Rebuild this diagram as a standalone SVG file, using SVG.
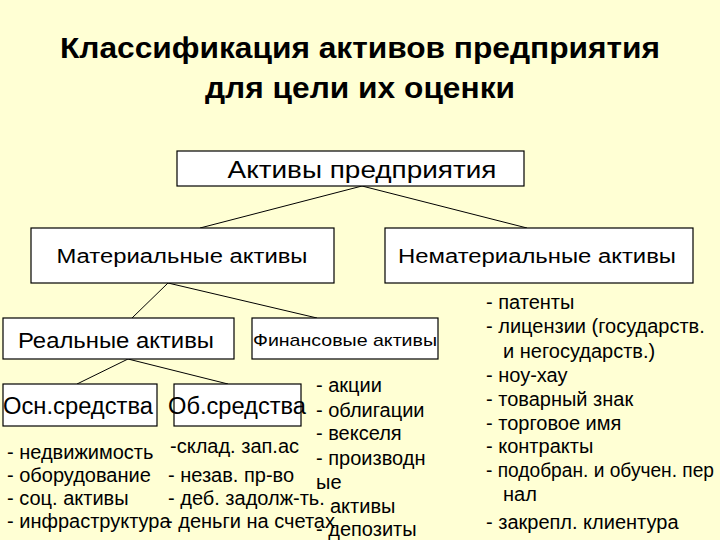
<svg xmlns="http://www.w3.org/2000/svg" width="720" height="540" viewBox="0 0 720 540">
<style>
text{font-family:"Liberation Sans",Arial,sans-serif;fill:#000}
.title{font-size:29px;font-weight:bold;text-anchor:middle}
.box{fill:#fff;stroke:#000;stroke-width:1.2}
.c{text-anchor:middle}
.ln{stroke:#000;stroke-width:1;fill:none}
.li{font-size:20px}
</style>
<rect width="720" height="540" fill="#FFFFD4"/>
<g id="title">
<text class="title" x="360" y="58" textLength="600" lengthAdjust="spacingAndGlyphs">Классификация активов предприятия</text>
<text class="title" x="360" y="98" textLength="310" lengthAdjust="spacingAndGlyphs">для цели их оценки</text>
</g>
<g id="connectors">
<line class="ln" x1="362" y1="186" x2="200" y2="228"/>
<line class="ln" x1="362" y1="186" x2="527" y2="228"/>
<line class="ln" x1="168" y1="283" x2="132" y2="318"/>
<line class="ln" x1="168" y1="283" x2="317" y2="318"/>
<line class="ln" x1="128" y1="359" x2="77" y2="384"/>
<line class="ln" x1="128" y1="359" x2="228" y2="384"/>
</g>
<g id="n-assets">
<rect class="box" x="177" y="151" width="347" height="35"/>
<text class="c" x="362" y="178" font-size="23" textLength="269" lengthAdjust="spacingAndGlyphs">Активы предприятия</text>
</g>
<g id="n-material">
<rect class="box" x="31" y="228" width="303" height="55"/>
<text class="c" x="182" y="263" font-size="20" textLength="251" lengthAdjust="spacingAndGlyphs">Материальные активы</text>
</g>
<g id="n-nonmaterial">
<rect class="box" x="385" y="228" width="308" height="55"/>
<text class="c" x="537" y="263" font-size="20" textLength="278" lengthAdjust="spacingAndGlyphs">Нематериальные активы</text>
</g>
<g id="n-real">
<rect class="box" x="3" y="318" width="231" height="41"/>
<text class="c" x="116" y="348" font-size="22" textLength="196" lengthAdjust="spacingAndGlyphs">Реальные активы</text>
</g>
<g id="n-financial">
<rect class="box" x="252" y="318" width="186" height="41"/>
<text class="c" x="345" y="346" font-size="17" textLength="184" lengthAdjust="spacingAndGlyphs">Финансовые активы</text>
</g>
<g id="n-fixed">
<rect class="box" x="3" y="384" width="154" height="42"/>
<text x="3" y="414" font-size="23" textLength="150" lengthAdjust="spacingAndGlyphs">Осн.средства</text>
</g>
<g id="n-current">
<rect class="box" x="174" y="384" width="127" height="42"/>
<text x="168" y="414" font-size="23" textLength="138" lengthAdjust="spacingAndGlyphs">Об.средства</text>
</g>
<g id="list-fixed" class="li">
<text x="7" y="459">- недвижимость</text>
<text x="7" y="482">- оборудование</text>
<text x="7" y="505">- соц. активы</text>
<text x="7" y="528">- инфраструктура</text>
</g>
<g id="list-current" class="li">
<text x="170" y="453">-склад. зап.ас</text>
<text x="168" y="482">- незав. пр-во</text>
<text x="168" y="505">- деб. задолж-ть.</text>
<text x="166" y="528">- деньги на счетах</text>
</g>
<g id="list-financial" class="li">
<text x="316" y="392">-  акции</text>
<text x="316" y="417">- облигации</text>
<text x="316" y="440">- векселя</text>
<text x="316" y="465">- производн</text>
<text x="316" y="489">ые</text>
<text x="330" y="513">активы</text>
<text x="316" y="536">- депозиты</text>
</g>
<g id="list-nonmaterial" class="li">
<text x="486" y="309">-  патенты</text>
<text x="486" y="333">- лицензии (государств.</text>
<text x="503" y="358">и негосударств.)</text>
<text x="486" y="382">- ноу-хау</text>
<text x="486" y="406">- товарный знак</text>
<text x="486" y="430">- торговое имя</text>
<text x="486" y="453">- контракты</text>
<text x="486" y="477" textLength="228" lengthAdjust="spacingAndGlyphs">- подобран. и обучен. пер</text>
<text x="503" y="501">нал</text>
<text x="486" y="529">- закрепл. клиентура</text>
</g>
</svg>
